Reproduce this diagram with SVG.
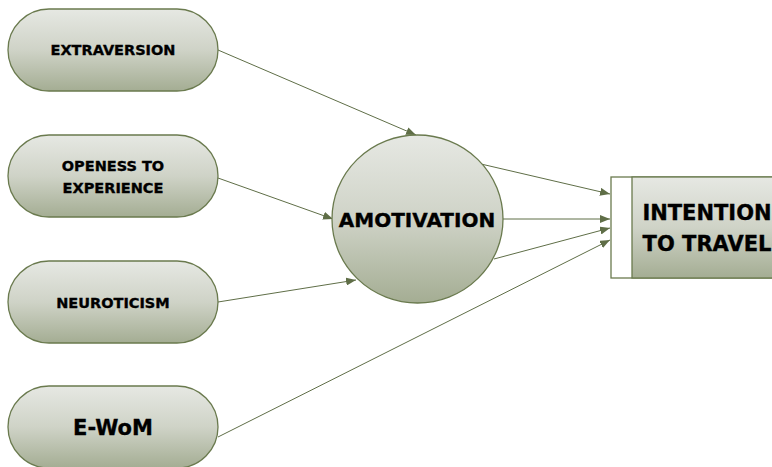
<svg xmlns="http://www.w3.org/2000/svg" width="772" height="467" viewBox="0 0 772 467">
<defs>
<linearGradient id="g" x1="0" y1="0" x2="0" y2="1">
<stop offset="0" stop-color="#e6e8e3"/>
<stop offset="0.5" stop-color="#cfd3c7"/>
<stop offset="1" stop-color="#a4ad93"/>
</linearGradient>
<marker id="a" markerWidth="10" markerHeight="8" refX="10" refY="4" orient="auto" markerUnits="userSpaceOnUse">
<path d="M0,0 L10,4 L0,8 Z" fill="#5f6e47"/>
</marker>
<style>
.n{fill:url(#g);stroke:#6a7a4e;stroke-width:1.3}
.t{font-family:"DejaVu Sans",sans-serif;font-weight:bold;fill:#000;stroke:#000;stroke-width:0.35;text-anchor:middle}
.c line{stroke:#5f6e47;stroke-width:1;marker-end:url(#a)}
</style>
</defs>
<rect width="772" height="467" fill="#fff"/>
<g class="c" id="connectors">
<line x1="218" y1="50" x2="416" y2="135"/>
<line x1="218" y1="178" x2="333" y2="219"/>
<line x1="218" y1="302" x2="356" y2="280"/>
<line x1="218" y1="437" x2="610" y2="240"/>
<line x1="481" y1="164" x2="610" y2="194"/>
<line x1="503" y1="219" x2="610" y2="219"/>
<line x1="494" y1="259" x2="610" y2="228"/>
</g>
<g id="extraversion">
<rect class="n" x="8" y="9" width="210" height="82" rx="41"/>
<text class="t" x="113" y="55" font-size="14.5">EXTRAVERSION</text>
</g>
<g id="openess">
<rect class="n" x="8" y="135" width="210" height="82" rx="41"/>
<text class="t" x="113" y="171" font-size="14.5">OPENESS TO</text>
<text class="t" x="113" y="193" font-size="14.5">EXPERIENCE</text>
</g>
<g id="neuroticism">
<rect class="n" x="8" y="261" width="210" height="82" rx="41"/>
<text class="t" x="113" y="308" font-size="14.5">NEUROTICISM</text>
</g>
<g id="ewom">
<rect class="n" x="8" y="386" width="210" height="82" rx="41"/>
<text class="t" x="113" y="435" font-size="21">E-WoM</text>
</g>
<g id="amotivation">
<ellipse class="n" cx="417.5" cy="219" rx="85.5" ry="84"/>
<text class="t" x="417" y="227" font-size="20">AMOTIVATION</text>
</g>
<g id="intention">
<rect x="611" y="177" width="180" height="101" fill="#fff" stroke="#6a7a4e" stroke-width="1.3"/>
<rect class="n" x="632" y="177" width="160" height="101"/>
<text class="t" x="707" y="220" font-size="21">INTENTION</text>
<text class="t" x="707" y="251" font-size="21">TO TRAVEL</text>
</g>
</svg>
